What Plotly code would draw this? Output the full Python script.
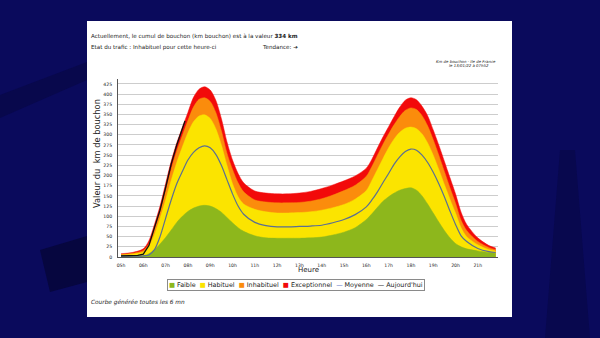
import plotly.graph_objects as go

# ---------------- data ----------------
hours = [5.0, 5.5, 6.0, 6.25, 6.5, 6.75, 7.0, 7.25, 7.5, 7.75, 8.0, 8.25, 8.5, 8.75,
         9.0, 9.25, 9.5, 9.75, 10.0, 10.25, 10.5, 11.0, 11.5, 12.0, 12.5, 13.0, 13.5,
         14.0, 14.5, 15.0, 15.5, 16.0, 16.25, 16.5, 16.75, 17.0, 17.25, 17.5, 17.75,
         18.0, 18.25, 18.5, 18.75, 19.0, 19.25, 19.5, 19.75, 20.0, 20.25, 20.5, 21.0,
         21.5, 21.8]

exceptionnel = [8, 11, 20, 40, 80, 125, 180, 235, 280, 318, 355, 392, 412, 418,
                410, 385, 340, 283, 238, 205, 182, 162, 157, 155, 155, 157, 161,
                168, 177, 187, 199, 218, 240, 268, 295, 320, 345, 368, 385,
                391, 386, 370, 347, 312, 275, 235, 195, 155, 110, 80, 47,
                28, 22]

inhabituel = [6, 9, 16, 32, 68, 110, 163, 215, 260, 298, 335, 368, 387, 391,
              382, 355, 310, 255, 215, 182, 160, 140, 135, 133, 133, 134, 137,
              143, 152, 163, 176, 198, 222, 250, 277, 302, 325, 345, 360,
              366, 362, 347, 322, 288, 250, 210, 170, 132, 90, 65, 38,
              23, 18]

habituel = [5, 7, 12, 25, 55, 95, 140, 188, 232, 270, 305, 332, 346, 349,
            340, 315, 275, 225, 180, 148, 130, 117, 111, 108, 108, 109, 111,
            115, 121, 129, 142, 163, 188, 215, 242, 268, 290, 306, 316,
            319, 315, 302, 280, 250, 215, 178, 142, 108, 72, 50, 30,
            18, 15]

faible = [2, 2, 3, 8, 18, 32, 48, 66, 85, 100, 112, 120, 125, 127,
          125, 119, 110, 97, 84, 72, 63, 52, 47, 46, 46, 46, 47,
          49, 54, 61, 72, 92, 106, 122, 137, 148, 157, 164, 168,
          170, 164, 150, 130, 108, 86, 65, 47, 33, 25, 20, 15,
          11, 9]

moyenne = [2, 2, 3, 5, 18, 50, 95, 140, 180, 210, 238, 257, 268, 273,
           268, 252, 225, 190, 155, 125, 105, 85, 77, 74, 74, 75, 76,
           78, 84, 92, 104, 123, 140, 160, 183, 205, 228, 246, 259,
           265, 262, 250, 232, 208, 180, 148, 113, 80, 52, 38, 21,
           13, 11]

hours_today = [5.0, 5.25, 5.5, 5.75, 6.0, 6.25, 6.5, 6.75, 7.0, 7.25, 7.5, 7.75, 7.87]
aujourdhui = [3, 3, 3, 4, 7, 28, 72, 115, 170, 228, 275, 318, 334]

tick_hours = list(range(5, 22))
tick_labels = ["05h", "06h", "07h", "08h", "09h", "10h", "11h", "12h", "13h",
               "14h", "15h", "16h", "17h", "18h", "19h", "20h", "21h"]
y_ticks = list(range(0, 426, 25))

# ---------------- colours ----------------
C_RED = "#f20a0a"
C_ORANGE = "#fb8c0c"
C_YELLOW = "#fbe400"
C_GREEN = "#8db71c"
C_MOY = "#5b6f92"
C_TODAY = "#111111"
BG = "#0a0a5c"

# ---------------- geometry (pixels) ----------------
W, H = 600, 338
PL, PR, PT, PB = 118, 498, 79, 257   # plot area in pixels


def px(x):
    return (x - PL) / (PR - PL)


def py(y):
    return (PB - y) / (PB - PT)


fig = go.Figure()

for vals, col, name in [(exceptionnel, C_RED, "Exceptionnel"),
                        (inhabituel, C_ORANGE, "Inhabituel"),
                        (habituel, C_YELLOW, "Habituel"),
                        (faible, C_GREEN, "Faible")]:
    fig.add_trace(go.Scatter(x=hours, y=vals, mode="lines", name=name,
                             fill="tozeroy", fillcolor=col,
                             line=dict(color=col, width=0.5, shape="spline", smoothing=0.8),
                             showlegend=False, hoverinfo="skip"))

fig.add_trace(go.Scatter(x=hours, y=moyenne, mode="lines", name="Moyenne",
                         line=dict(color=C_MOY, width=1.2, shape="spline", smoothing=0.8),
                         showlegend=False))
fig.add_trace(go.Scatter(x=hours_today, y=aujourdhui, mode="lines", name="Aujourd'hui",
                         line=dict(color=C_TODAY, width=1.3),
                         showlegend=False))

FONT = "DejaVu Sans"
TXT = "#222222"

shapes = [
    # darker background patches
    dict(type="path", xref="paper", yref="paper", layer="below",
         path=f"M {px(40)},{py(250)} L {px(87)},{py(236)} L {px(87)},{py(282)} L {px(50)},{py(292)} Z",
         fillcolor="#06063f", line=dict(width=0)),
    dict(type="path", xref="paper", yref="paper", layer="below",
         path=f"M {px(0)},{py(95)} L {px(87)},{py(62)} L {px(87)},{py(80)} L {px(0)},{py(118)} Z",
         fillcolor="#08084c", line=dict(width=0)),
    dict(type="path", xref="paper", yref="paper", layer="below",
         path=f"M {px(560)},{py(150)} L {px(575)},{py(150)} L {px(590)},{py(338)} L {px(545)},{py(338)} Z",
         fillcolor="#08084e", line=dict(width=0)),
    # white panel
    dict(type="rect", xref="paper", yref="paper", layer="below",
         x0=px(87), x1=px(512), y0=py(317), y1=py(21),
         fillcolor="white", line=dict(width=0)),
]


def ann(text, x, y, size, xanchor="left", **kw):
    return dict(text=text, x=px(x), y=py(y), xref="paper", yref="paper",
                xanchor=xanchor, yanchor="middle", showarrow=False,
                font=dict(family=FONT, size=size, color=TXT), **kw)


legend_text = (
    f"<span style='color:{C_GREEN}'>■</span> Faible  "
    f"<span style='color:{C_YELLOW}'>■</span> Habituel  "
    f"<span style='color:{C_ORANGE}'>■</span> Inhabituel  "
    f"<span style='color:{C_RED}'>■</span> Exceptionnel  "
    f"<span style='color:#3d5fc4'>—</span> Moyenne  "
    f"<span style='color:#000'>—</span> Aujourd'hui"
)

annotations = [
    ann("Actuellement, le cumul de bouchon (km bouchon) est à la valeur <b>334 km</b>", 89, 36, 5.6),
    ann("Etat du trafic : Inhabituel pour cette heure-ci", 89, 47, 5.6),
    ann("Tendance: <b>➔</b>", 260, 47, 5.6),
    ann("<i>Km de bouchon - Ile de France</i>", 466, 61, 3.9, xanchor="center"),
    ann("<i>le 13/01/22 à 07h52</i>", 469, 65.5, 3.9, xanchor="center"),
    ann("<i>Courbe générée toutes les 6 mn</i>", 89, 302, 5.8),
    ann("Heure", 308, 270, 7, xanchor="center"),
    ann("Valeur du  km de bouchon", 97, 154, 8.3, xanchor="center", textangle=-90),
    dict(text=legend_text, x=px(296), y=py(284.5), xref="paper", yref="paper",
         xanchor="center", yanchor="middle", showarrow=False,
         font=dict(family=FONT, size=6.4, color=TXT),
         bordercolor="#8a8a8a", borderwidth=1, borderpad=1, bgcolor="white"),
]

fig.update_layout(
    width=W, height=H,
    margin=dict(l=PL, r=W - PR, t=PT, b=H - PB, pad=0),
    paper_bgcolor=BG, plot_bgcolor="white",
    shapes=shapes, annotations=annotations,
    showlegend=False,
    xaxis=dict(range=[4.865, 21.905], tickmode="array", tickvals=tick_hours,
               ticktext=tick_labels, showgrid=False, zeroline=False,
               showline=True, linecolor="#555555", linewidth=1,
               ticks="", ticklabelstandoff=3,
               tickfont=dict(family=FONT, size=4.6, color=TXT)),
    yaxis=dict(range=[0, 437], tickmode="array", tickvals=y_ticks,
               showgrid=True, gridcolor="#cdcdcd", gridwidth=1, zeroline=False,
               showline=True, linecolor="#555555", linewidth=1,
               ticks="", ticklabelstandoff=4,
               tickfont=dict(family=FONT, size=4.6, color=TXT)),
)

fig.write_html("out.html")
